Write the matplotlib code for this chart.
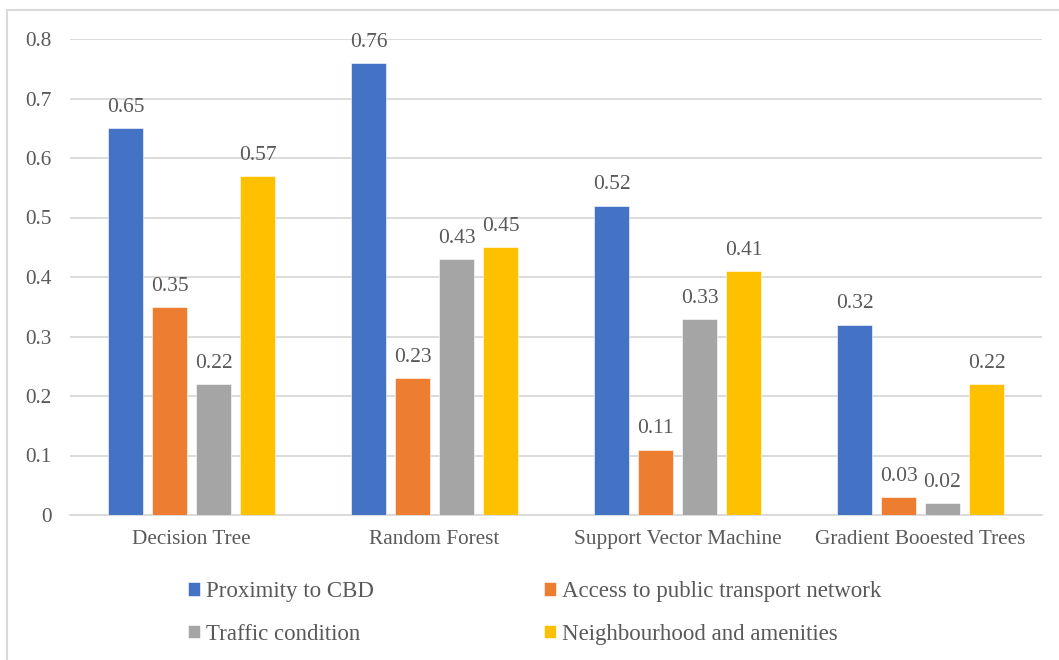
import matplotlib
matplotlib.use("Agg")
import matplotlib.pyplot as plt
from matplotlib.lines import Line2D
import numpy as np

models = ["Decision Tree", "Random Forest", "Support Vector Machine", "Gradient Booested Trees"]
series_names = ["Proximity to CBD", "Access to public transport network",
                "Traffic condition", "Neighbourhood and amenities"]
proximity = [0.65, 0.76, 0.52, 0.32]
transport = [0.35, 0.23, 0.11, 0.03]
traffic = [0.22, 0.43, 0.33, 0.02]
amenities = [0.57, 0.45, 0.41, 0.22]
y_ticks = [0, 0.1, 0.2, 0.3, 0.4, 0.5, 0.6, 0.7, 0.8]

colors = ["#4472C4", "#ED7D31", "#A5A5A5", "#FFC000"]
text_color = "#595959"
grid_color = "#D9D9D9"

plt.rcParams["font.family"] = ["Liberation Serif", "DejaVu Serif"]

fig = plt.figure(figsize=(10.59, 6.6), dpi=100)
ax = fig.add_axes([70 / 1059, 1 - 515 / 660, (1042 - 70) / 1059, (515 - 39) / 660])

x = np.arange(len(models))
step = 0.181
width = 0.144
all_series = [proximity, transport, traffic, amenities]
for i, (vals, col, name) in enumerate(zip(all_series, colors, series_names)):
    pos = x + (i - 1.5) * step
    bars = ax.bar(pos, vals, width, color=col, label=name, zorder=3,
                  edgecolor="white", linewidth=0.4)
    for b, v in zip(bars, vals):
        ax.annotate(f"{v:.2f}", (b.get_x() + b.get_width() / 2, v),
                    xytext=(0, 8), textcoords="offset points",
                    ha="center", va="bottom", fontsize=15.5, color=text_color)

ax.set_xlim(-0.5, len(models) - 0.5)
ax.set_ylim(0, 0.8)
ax.set_yticks(y_ticks)
ax.set_yticklabels([f"{t:g}" for t in y_ticks])
ax.set_xticks(x)
ax.set_xticklabels(models)
ax.tick_params(axis="both", length=0, labelsize=15.3, colors=text_color)
ax.tick_params(axis="y", pad=13.5)
ax.tick_params(axis="x", pad=11)
ax.grid(axis="y", color=grid_color, linewidth=1.3, zorder=0)
ax.set_axisbelow(True)
for side in ["top", "right", "left"]:
    ax.spines[side].set_visible(False)
ax.spines["bottom"].set_color(grid_color)
ax.spines["bottom"].set_linewidth(1.3)

# chart frame (top and left edges)
fig.add_artist(Line2D([7 / 1059, 7 / 1059], [0, 1 - 10 / 660], color="#D9D9D9", lw=1.5))
fig.add_artist(Line2D([7 / 1059, 1], [1 - 10 / 660, 1 - 10 / 660], color="#D9D9D9", lw=1.5))

handles, labels = ax.get_legend_handles_labels()
order = [0, 2, 1, 3]
leg = fig.legend([handles[k] for k in order], [labels[k] for k in order],
                 loc="center", bbox_to_anchor=(534.5 / 1059, 1 - 613 / 660),
                 ncol=2, frameon=False, fontsize=16.5, handlelength=0.52, handleheight=0.52,
                 handletextpad=0.25, columnspacing=7.45, labelspacing=0.95)
for t in leg.get_texts():
    t.set_color(text_color)

fig.savefig("out.png", dpi=100)
